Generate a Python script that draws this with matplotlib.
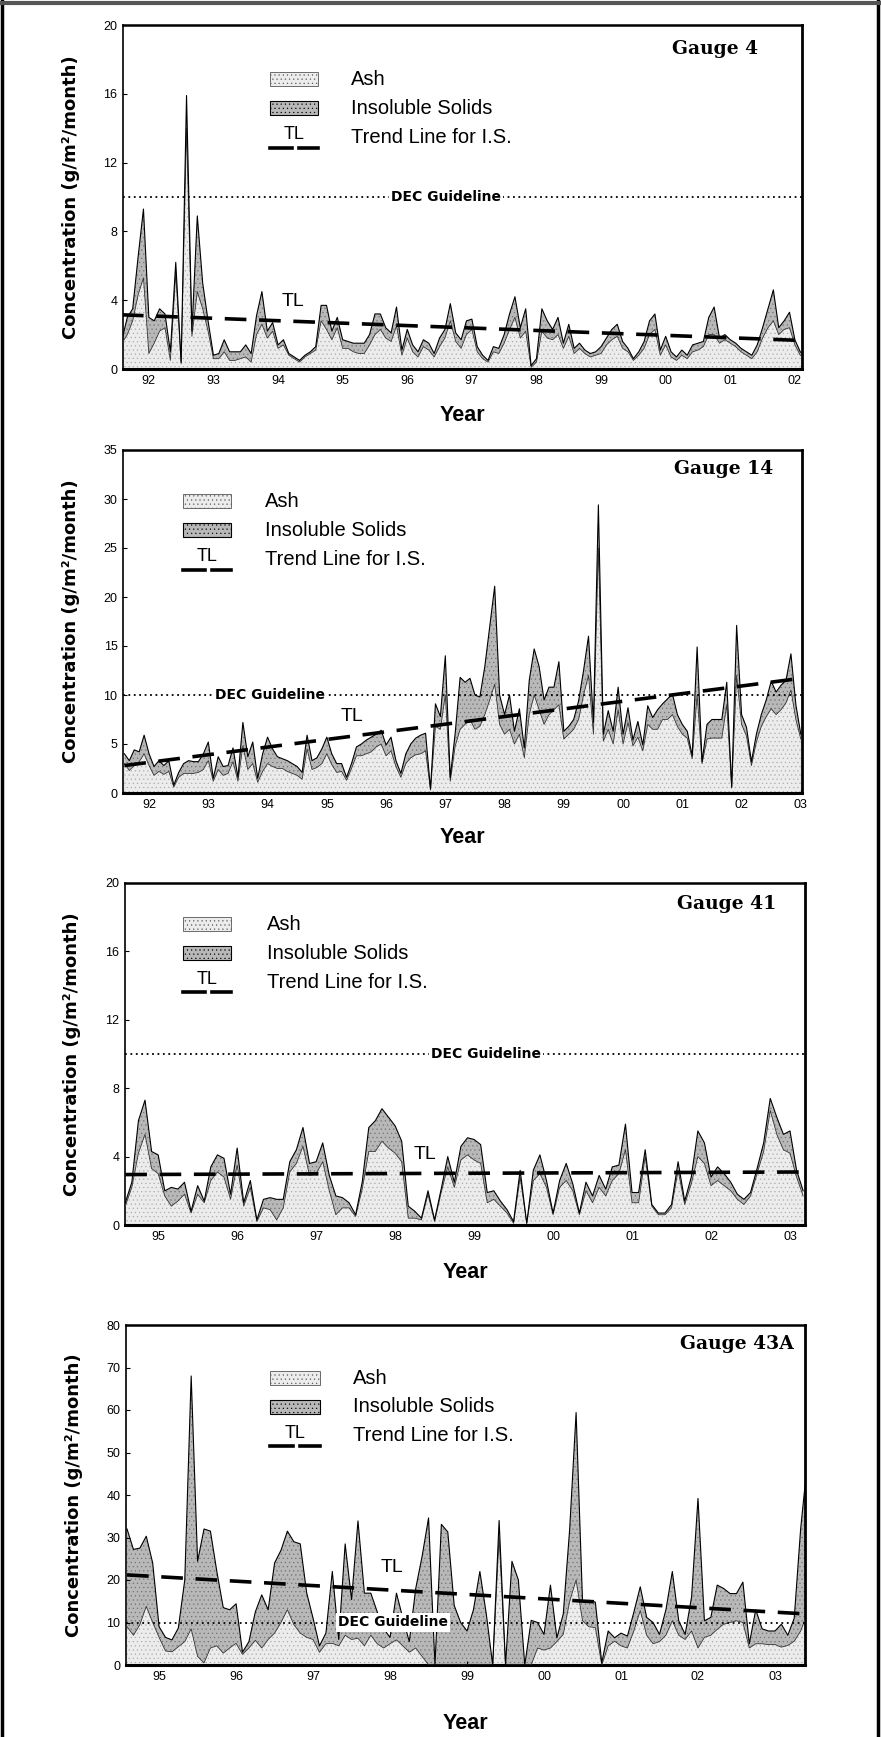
import numpy as np
import matplotlib.pyplot as plt
from matplotlib.patches import Rectangle
from matplotlib.lines import Line2D

plt.rcParams["font.family"] = "Liberation Sans"
plt.rcParams["hatch.linewidth"] = 0.35

# ---- data: monthly deposition, g/m2/month ----
g4_start = 1991 + 7 / 12
g4_is = [1.7, 3.0, 3.5, 6.5, 9.3, 3.0, 2.8, 3.5, 3.2, 1.0,
         6.2, 0.4, 15.9, 2.2, 8.9, 5.0, 2.8, 0.8, 0.9, 1.7,
         1.0, 1.0, 1.0, 1.4, 0.9, 3.1, 4.5, 2.2, 2.7, 1.4,
         1.7, 0.9, 0.7, 0.5, 0.8, 1.0, 1.3, 3.7, 3.7, 2.2,
         3.0, 1.7, 1.6, 1.5, 1.5, 1.5, 2.0, 3.2, 3.2, 2.4,
         2.1, 3.6, 1.1, 2.3, 1.4, 1.0, 1.7, 1.5, 0.9, 1.8,
         2.3, 3.8, 2.1, 1.7, 2.8, 2.9, 1.3, 0.8, 0.5, 1.3,
         1.2, 2.0, 3.2, 4.2, 2.4, 3.5, 0.2, 0.6, 3.5, 2.8,
         2.3, 3.0, 1.5, 2.6, 1.2, 1.5, 1.1, 0.9, 1.0, 1.3,
         1.8, 2.3, 2.6, 1.6, 1.2, 0.6, 1.0, 1.6, 2.8, 3.2,
         1.1, 1.9, 1.0, 0.7, 1.1, 0.8, 1.4, 1.5, 1.6, 3.0,
         3.6, 1.8, 2.0, 1.7, 1.5, 1.2, 1.0, 0.8, 1.4, 2.4,
         3.5, 4.6, 2.4, 2.8, 3.3, 1.7, 1.0, 0.7]
g4_ash = [1.5, 2.0, 2.8, 4.3, 5.3, 0.9, 1.5, 2.2, 2.4, 0.5,
          5.6, 0.3, 14.0, 1.9, 4.5, 3.5, 2.2, 0.6, 0.6, 1.0,
          0.5, 0.5, 0.6, 0.7, 0.4, 2.0, 2.6, 1.8, 2.2, 1.2,
          1.4, 0.8, 0.6, 0.4, 0.7, 0.9, 1.1, 2.8, 2.3, 1.7,
          2.4, 1.2, 1.2, 1.0, 0.9, 0.9, 1.4, 2.0, 2.3, 1.8,
          1.6, 2.5, 0.8, 1.8, 1.0, 0.7, 1.3, 1.1, 0.7, 1.3,
          1.8, 2.8, 1.6, 1.2, 2.0, 2.3, 1.0, 0.6, 0.4, 1.0,
          0.9, 1.5, 2.3, 3.0, 1.8, 2.2, 0.1, 0.4, 2.2, 1.8,
          1.7, 2.0, 1.2, 1.9, 0.9, 1.2, 0.9, 0.7, 0.8, 0.9,
          1.4, 1.7, 1.9, 1.2, 1.0, 0.5, 0.8, 1.2, 2.0, 2.3,
          0.8, 1.4, 0.7, 0.5, 0.8, 0.6, 1.0, 1.1, 1.3, 2.0,
          2.0, 1.5, 1.7, 1.5, 1.3, 1.0, 0.8, 0.6, 1.0, 1.8,
          2.4, 2.8, 2.0, 2.3, 2.4, 1.4, 0.8, 0.6]
g4_trend = [3.15, 1.65]

g14_start = 1991 + 7 / 12
g14_is = [4.0, 3.3, 4.4, 4.2, 5.9, 4.0, 2.7, 3.3, 2.8, 3.3,
          0.8, 2.1, 3.0, 3.3, 3.2, 3.2, 4.0, 5.2, 1.5, 3.7,
          2.7, 2.8, 4.6, 1.6, 7.2, 3.7, 5.2, 1.5, 4.0, 5.7,
          4.5, 3.7, 3.5, 3.3, 3.0, 2.7, 2.1, 5.9, 3.3, 3.6,
          4.5, 5.7, 4.0, 3.0, 3.0, 1.6, 3.0, 4.7, 5.0, 5.4,
          5.7, 6.0, 6.4, 4.9, 5.7, 3.3, 2.0, 4.0, 5.0, 5.6,
          5.9, 6.1, 0.4, 9.1, 7.8, 14.0, 1.6, 6.1, 11.8, 11.3,
          11.7, 10.0, 9.8, 12.9, 17.0, 21.1, 10.0, 8.0, 10.0, 6.3,
          8.6, 4.6, 11.5, 14.7, 12.9, 9.5, 10.8, 10.8, 13.4, 6.3,
          6.8, 7.5, 9.4, 12.5, 16.0, 7.2, 29.4, 6.0, 8.4, 6.3,
          10.8, 6.0, 8.7, 5.4, 7.3, 4.9, 8.9, 7.7, 8.5, 9.1,
          9.6, 10.1, 8.0, 7.0, 6.3, 3.8, 14.9, 3.2, 7.0, 7.5,
          7.5, 7.5, 11.3, 0.6, 17.1, 8.0, 6.7, 3.2, 6.0, 8.0,
          9.5, 11.4, 10.3, 11.0, 11.5, 14.2, 9.0, 6.0]
g14_ash = [3.0, 2.3, 2.8, 3.2, 4.0, 2.8, 1.8, 2.2, 1.9, 2.2,
           0.6, 1.6, 2.0, 2.0, 2.0, 2.1, 2.4, 3.3, 1.2, 2.4,
           1.8, 2.0, 3.2, 1.2, 4.8, 2.4, 3.0, 1.1, 2.2, 3.0,
           2.7, 2.5, 2.5, 2.2, 2.0, 1.8, 1.4, 4.5, 2.4, 2.6,
           3.0, 4.0, 2.9, 2.1, 2.2, 1.3, 2.5, 3.8, 3.8, 4.0,
           4.2, 4.7, 5.0, 3.8, 4.3, 2.7, 1.6, 3.0, 3.6, 3.9,
           4.0, 4.3, 0.3, 6.8, 6.5, 10.0, 1.2, 4.8, 6.5, 7.0,
           7.5, 6.5, 6.8, 8.0, 9.5, 11.1, 7.0, 6.0, 6.5, 5.0,
           6.0, 3.6, 8.0, 10.0, 8.5, 7.0, 8.0, 8.5, 9.0, 5.5,
           6.0, 6.5, 7.5, 10.0, 12.0, 6.0, 25.0, 5.3, 6.5, 5.0,
           8.5, 5.0, 7.2, 4.8, 5.7, 4.3, 7.0, 6.5, 6.5, 7.5,
           7.5, 8.0, 6.8, 6.0, 5.6, 3.5, 10.0, 3.0, 5.5, 5.6,
           5.6, 5.6, 9.0, 0.5, 12.0, 7.0, 5.8, 2.8, 5.2, 6.8,
           7.8, 8.6, 8.0, 8.5, 9.2, 10.5, 7.5, 5.5]
g14_trend = [2.8, 11.7]

g41_start = 1994 + 7 / 12
g41_is = [1.3, 2.5, 6.1, 7.3, 4.3, 4.1, 2.0, 2.2, 2.1, 2.5,
          0.8, 2.3, 1.4, 3.4, 4.1, 3.9, 1.8, 4.5, 1.3, 2.6,
          0.3, 1.5, 1.6, 1.5, 1.5, 3.7, 4.4, 5.7, 3.6, 3.7,
          4.8, 2.9, 1.7, 1.6, 1.3, 0.6, 2.5, 5.7, 6.1, 6.8,
          6.3, 5.8, 4.9, 1.1, 0.8, 0.4, 2.0, 0.3, 2.1, 4.0,
          2.5, 4.6, 5.1, 5.0, 4.7, 1.9, 2.0, 1.4, 0.9, 0.2,
          3.2, 0.1, 3.2, 4.1, 2.6, 0.7, 2.6, 3.6, 2.4, 0.7,
          2.5, 1.7, 2.9, 2.1, 3.4, 3.5, 5.9, 1.9, 1.9, 4.4,
          1.2, 0.7, 0.7, 1.2, 3.7, 1.4, 2.8, 5.5, 4.8, 2.8,
          3.4, 3.0, 2.5, 1.8, 1.5, 1.9, 3.3, 4.8, 7.4, 6.3,
          5.3, 5.5, 3.2, 2.0]
g41_ash = [1.1, 2.2, 4.2, 5.3, 3.3, 3.0, 1.7, 1.1, 1.4, 1.8,
           0.7, 1.8, 1.3, 2.6, 3.1, 2.8, 1.5, 3.5, 1.1, 2.2,
           0.2, 1.0, 0.9, 0.3, 1.0, 3.1, 3.6, 4.6, 2.9, 3.0,
           3.7, 2.0, 0.6, 1.0, 1.0, 0.5, 2.1, 4.3, 4.3, 4.9,
           4.5, 4.2, 3.7, 0.4, 0.4, 0.3, 1.8, 0.2, 1.9, 3.4,
           2.2, 3.8, 4.1, 3.8, 3.6, 1.3, 1.5, 1.1, 0.7, 0.1,
           2.8, 0.1, 2.6, 3.0, 2.2, 0.6, 2.2, 2.6, 2.0, 0.6,
           2.0, 1.3, 2.2, 1.7, 2.6, 3.0, 4.4, 1.3, 1.3, 4.0,
           1.1, 0.6, 0.6, 1.0, 3.2, 1.2, 2.4, 4.0, 3.6, 2.3,
           2.6, 2.3, 2.0, 1.5, 1.2, 1.7, 3.0, 4.3, 6.7, 5.3,
           4.4, 4.2, 2.8, 1.7]
g41_trend = [2.95, 3.1]

g43a_start = 1994 + 7 / 12
g43a_is = [32.0, 27.2, 27.5, 30.3, 24.0, 9.0, 6.5, 5.9, 8.7, 20.0,
           68.0, 24.4, 32.0, 31.5, 22.0, 13.5, 13.0, 14.4, 3.0, 5.5,
           12.5, 16.5, 13.0, 24.0, 27.0, 31.5, 29.0, 28.5, 17.0, 11.0,
           4.5, 7.5, 22.0, 6.0, 28.5, 15.4, 33.9, 16.9, 16.9, 12.5,
           8.5, 6.5, 16.9, 11.0, 5.5, 18.0, 25.6, 34.6, 0.0, 33.1,
           31.3, 14.0, 10.0, 8.0, 13.0, 22.0, 12.0, 0.0, 34.0, 0.0,
           24.4, 20.0, 0.0, 10.5, 10.0, 7.2, 18.8, 6.4, 12.0, 32.0,
           59.4, 15.0, 15.2, 14.8, 0.5, 8.0, 6.4, 7.5, 6.8, 12.4,
           18.4, 11.2, 10.0, 7.2, 13.0, 22.0, 10.4, 7.2, 16.0, 39.2,
           10.4, 11.2, 18.8, 18.0, 16.8, 16.8, 19.5, 5.0, 13.0, 8.5,
           8.0, 8.0, 9.6, 7.0, 11.0, 32.0, 47.0]
g43a_ash = [9.0, 7.0, 9.5, 13.8, 10.0, 6.5, 3.3, 3.1, 4.3, 5.5,
            8.5, 2.0, 0.5, 4.0, 4.5, 2.8, 4.0, 5.1, 2.5, 4.0,
            5.8, 4.0, 6.0, 7.5, 10.0, 13.0, 9.5, 7.5, 6.5, 6.0,
            3.0, 5.0, 5.1, 4.5, 7.0, 6.0, 6.3, 4.5, 7.0, 5.0,
            4.0, 5.0, 5.9, 4.5, 3.0, 4.0, 2.0, 0.0, 0.0, 0.0,
            0.0, 0.0, 0.0, 0.0, 0.0, 0.0, 0.0, 0.0, 30.0, 0.0,
            0.0, 0.0, 0.0, 0.0, 4.0, 3.5, 4.0, 5.5, 7.2, 15.0,
            20.0, 10.4, 9.0, 8.8, 0.0, 4.5, 5.6, 4.5, 4.0, 8.0,
            12.8, 7.0, 5.0, 5.5, 7.0, 10.4, 7.0, 6.0, 8.0, 4.0,
            6.5, 7.0, 8.4, 9.6, 10.0, 10.4, 10.0, 4.0, 5.0, 5.0,
            4.8, 4.8, 4.2, 4.6, 5.6, 8.0, 12.0]
g43a_trend = [21.2, 12.0]

guideline = 10

panels = [
    # name, start, IS, ash, trend, xlim, ymax, ytick step, year ticks
    ("Gauge 4", g4_start, g4_is, g4_ash, g4_trend,
     (1991.6, 2002.11), 20, 4, range(1992, 2003)),
    ("Gauge 14", g14_start, g14_is, g14_ash, g14_trend,
     (1991.56, 2003.02), 35, 5, range(1992, 2004)),
    ("Gauge 41", g41_start, g41_is, g41_ash, g41_trend,
     (1994.58, 2003.19), 20, 4, range(1995, 2004)),
    ("Gauge 43A", g43a_start, g43a_is, g43a_ash, g43a_trend,
     (1994.57, 2003.39), 80, 10, range(1995, 2004)),
]

# layout (pixels): left, right, top, bottom of each axes box
W, H = 881, 1737
boxes = [(123, 802, 25, 369), (123, 802, 450, 793),
         (125, 805, 883, 1225), (126, 805, 1325, 1665)]
# legend: swatch x0, x1, text x, first row y (axes fraction)
legend_pos = [(0.216, 0.287, 0.336, 0.843), (0.088, 0.159, 0.209, 0.851),
              (0.085, 0.156, 0.209, 0.880), (0.212, 0.286, 0.334, 0.844)]
gauge_pos = [(0.872, 0.929), (0.884, 0.945), (0.885, 0.940), (0.900, 0.944)]
dec_x = [1996.6, 1994.04, 1999.15, 1998.04]
tl_pos = [(1994.23, 3.45), (1995.42, 6.9), (1998.38, 3.6), (1998.02, 20.9)]
year_y = [-0.105, -0.099, -0.108, -0.141]

ash_color = "#ececec"
ash_dots = "#a8a8a8"
is_color = "#b8b8b8"
is_dots = "#6e6e6e"

fig = plt.figure(figsize=(W / 100, H / 100), dpi=100)
fig.patch.set_facecolor("white")

for k, (name, start, is_vals, ash_vals, trend, xlim, ymax, ystep, years) in enumerate(panels):
    l, r, t, b = boxes[k]
    ax = fig.add_axes([l / W, 1 - b / H, (r - l) / W, (b - t) / H])

    x = start + np.arange(len(is_vals)) / 12
    is_vals = np.array(is_vals)
    ash_vals = np.array(ash_vals)

    # stippled fills, like the scanned halftone
    ax.fill_between(x, 0, is_vals, facecolor=is_color, edgecolor=is_dots,
                    hatch="....", lw=0, zorder=1)
    ax.fill_between(x, 0, ash_vals, facecolor=ash_color, edgecolor=ash_dots,
                    hatch="....", lw=0, zorder=2)
    ax.plot(x, ash_vals, color="#333333", lw=0.6, zorder=3)
    ax.plot(x, is_vals, color="black", lw=0.8, zorder=3)

    # trend line for I.S.
    ax.plot([x[0], x[-1]], trend, color="black", lw=2.6,
            dashes=(6, 3.5), zorder=5)
    ax.text(tl_pos[k][0], tl_pos[k][1], "TL", fontsize=14,
            ha="center", va="bottom", zorder=6)

    # DEC guideline
    ax.axhline(guideline, color="black", lw=1.3, ls=(0, (1, 2)), zorder=4)
    ax.text(dec_x[k], guideline, "DEC Guideline", fontsize=10,
            family="DejaVu Sans", weight="bold", ha="center", va="center",
            zorder=6, bbox=dict(facecolor="white", edgecolor="none", pad=1.5))

    ax.set_xlim(*xlim)
    ax.set_ylim(0, ymax)
    ax.set_xticks(list(years))
    ax.set_xticklabels([f"{y % 100:02d}" for y in years])
    ax.set_yticks(np.arange(0, ymax + 1, ystep))
    ax.tick_params(direction="in", length=3, width=0.8, labelsize=9,
                   pad=4, colors="black")

    for side, lw in [("left", 1.2), ("bottom", 2.2), ("top", 1.8), ("right", 2.0)]:
        ax.spines[side].set_linewidth(lw)

    ax.set_ylabel("Concentration (g/m²/month)", family="DejaVu Sans",
                  weight="bold", fontsize=13)
    ax.yaxis.set_label_coords(-0.064, 0.5)
    ax.set_xlabel("Year", weight="bold", fontsize=15.5)
    ax.xaxis.set_label_coords(0.5, year_y[k])

    # gauge name
    ax.text(gauge_pos[k][0], gauge_pos[k][1], name, transform=ax.transAxes,
            family="DejaVu Serif", weight="bold", fontsize=13.5,
            ha="center", va="center")

    # hand drawn legend
    sx0, sx1, tx, ty = legend_pos[k]
    row = 0.085
    sh = 0.042
    ax.add_patch(Rectangle((sx0, ty - sh / 2), sx1 - sx0, sh, transform=ax.transAxes,
                           facecolor=ash_color, edgecolor="#555555", lw=0.6,
                           hatch="....", zorder=6))
    ax.add_patch(Rectangle((sx0, ty - row - sh / 2), sx1 - sx0, sh, transform=ax.transAxes,
                           facecolor=is_color, edgecolor="black", lw=0.8,
                           hatch="....", zorder=6))
    ax.text(tx, ty, "Ash", transform=ax.transAxes, fontsize=14.5, va="center")
    ax.text(tx, ty - row, "Insoluble Solids", transform=ax.transAxes,
            fontsize=14.5, va="center")
    ax.text(tx, ty - 2 * row, "Trend Line for I.S.", transform=ax.transAxes,
            fontsize=14.5, va="center")
    ax.text((sx0 + sx1) / 2, ty - 2 * row + 0.008, "TL", transform=ax.transAxes,
            fontsize=13, ha="center", va="center")
    sw = sx1 - sx0
    yd = ty - 2 * row - 0.030
    for a0, a1 in [(0.0, 0.46), (0.6, 1.0)]:
        ax.add_line(Line2D([sx0 + a0 * sw, sx0 + a1 * sw], [yd, yd],
                           transform=ax.transAxes, color="black", lw=2.6))

# page border of the scanned sheet
fig.add_artist(Line2D([0.002, 0.002], [0, 1], color="black", lw=2.5))
fig.add_artist(Line2D([0.997, 0.997], [0, 1], color="black", lw=2.5))
fig.add_artist(Line2D([0, 1], [0.998, 0.998], color="#555555", lw=3))

fig.savefig("out.png", dpi=100, facecolor="white")
